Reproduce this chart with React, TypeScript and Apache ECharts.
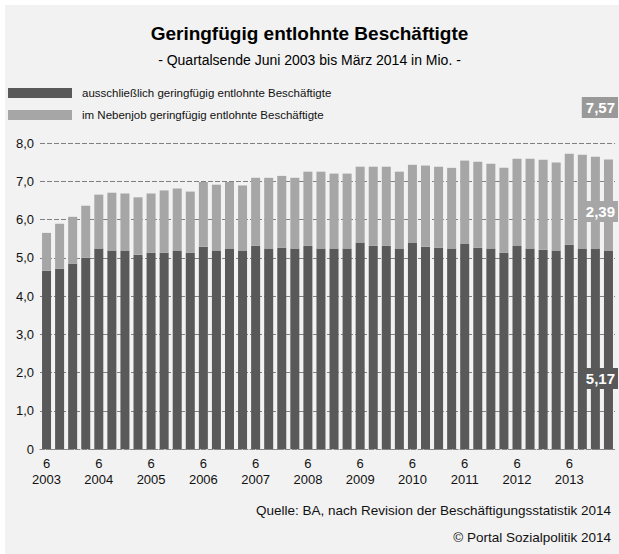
import React, { useEffect, useRef } from "react";
import * as echarts from "echarts";

const categories = [
  "6/2003", "9/2003", "12/2003",
  "3/2004", "6/2004", "9/2004", "12/2004",
  "3/2005", "6/2005", "9/2005", "12/2005",
  "3/2006", "6/2006", "9/2006", "12/2006",
  "3/2007", "6/2007", "9/2007", "12/2007",
  "3/2008", "6/2008", "9/2008", "12/2008",
  "3/2009", "6/2009", "9/2009", "12/2009",
  "3/2010", "6/2010", "9/2010", "12/2010",
  "3/2011", "6/2011", "9/2011", "12/2011",
  "3/2012", "6/2012", "9/2012", "12/2012",
  "3/2013", "6/2013", "9/2013", "12/2013",
  "3/2014",
];

const ausschliesslich = [
  4.66, 4.71, 4.84, 5.0, 5.24, 5.19, 5.19, 5.08, 5.13, 5.13, 5.19, 5.13,
  5.29, 5.19, 5.24, 5.19, 5.31, 5.24, 5.26, 5.24, 5.31, 5.24, 5.24, 5.24,
  5.4, 5.31, 5.31, 5.24, 5.4, 5.29, 5.26, 5.24, 5.37, 5.26, 5.24, 5.13,
  5.31, 5.24, 5.21, 5.19, 5.34, 5.24, 5.24, 5.174,
];

const nebenjob = [
  0.99, 1.18, 1.23, 1.36, 1.41, 1.51, 1.49, 1.5, 1.55, 1.63, 1.62, 1.6,
  1.69, 1.72, 1.74, 1.7, 1.78, 1.85, 1.88, 1.85, 1.94, 2.01, 1.96, 1.96,
  1.98, 2.07, 2.07, 2.01, 2.03, 2.12, 2.12, 2.11, 2.17, 2.25, 2.22, 2.22,
  2.28, 2.35, 2.35, 2.3, 2.38, 2.45, 2.4, 2.394,
];

const yTicks = [0, 1, 2, 3, 4, 5, 6, 7, 8];

const seriesNames = [
  "ausschließlich geringfügig entlohnte Beschäftigte",
  "im Nebenjob geringfügig entlohnte Beschäftigte",
];

const FONT = "'Liberation Sans', Arial, Helvetica, sans-serif";
const DARK = "#595959";
const LIGHT = "#a6a6a6";

const fmt = (v: number) => v.toFixed(2).replace(".", ",");

export default function App() {
  const ref = useRef<HTMLDivElement>(null);

  useEffect(() => {
    if (!ref.current) return;
    const chart = echarts.init(ref.current, null, { renderer: "svg" });
    const lastDark = ausschliesslich[ausschliesslich.length - 1];
    const lastLight = nebenjob[nebenjob.length - 1];
    const total = lastDark + lastLight;

    const valueLabel = (text: string, bg: string, y: number) => ({
      type: "text",
      right: 1,
      top: y,
      z: 100,
      style: {
        text,
        font: `bold 15px ${FONT}`,
        fill: "#ffffff",
        backgroundColor: bg,
        padding: [3, 3, 3, 4],
      },
    });

    chart.setOption({
      animation: false,
      backgroundColor: "#ffffff",
      textStyle: { fontFamily: FONT },
      title: {
        text: "Geringfügig entlohnte Beschäftigte",
        subtext: "- Quartalsende Juni 2003 bis März 2014 in Mio. -",
        left: "center",
        top: 19,
        itemGap: 10,
        textStyle: { fontFamily: FONT, fontSize: 19, fontWeight: "bold", color: "#000" },
        subtextStyle: { fontFamily: FONT, fontSize: 14, color: "#000" },
      },
      legend: {
        orient: "vertical",
        left: 8,
        top: 87,
        padding: 0,
        itemWidth: 64,
        itemHeight: 10,
        itemGap: 10,
        icon: "rect",
        selectedMode: false,
        data: seriesNames,
        textStyle: { fontFamily: FONT, fontSize: 11.5, color: "#111", padding: [0, 0, 0, 5] },
      },
      grid: { left: 40, right: 4, top: 143, bottom: 105, containLabel: false },
      xAxis: {
        type: "category",
        data: categories,
        axisLine: { show: true, lineStyle: { color: "#888", type: [4, 2] } },
        axisTick: { show: false },
        axisLabel: {
          interval: (i: number) => i % 4 === 0,
          formatter: (v: string) => v.replace("/", "\n"),
          fontFamily: FONT,
          fontSize: 13,
          lineHeight: 16,
          color: "#111",
          margin: 6,
        },
      },
      yAxis: {
        type: "value",
        min: 0,
        max: 8,
        interval: 1,
        axisLine: { show: false },
        axisTick: { show: false },
        axisLabel: {
          formatter: (v: number) => (yTicks.includes(v) && v !== 0 ? v.toFixed(1).replace(".", ",") : "0"),
          fontFamily: FONT,
          fontSize: 13,
          color: "#111",
          margin: 6,
        },
        splitLine: { lineStyle: { color: "#808080", type: [5, 2], width: 1 } },
      },
      series: [
        {
          name: seriesNames[0],
          type: "bar",
          stack: "total",
          data: ausschliesslich,
          barWidth: 9,
          itemStyle: { color: DARK },
        },
        {
          name: seriesNames[1],
          type: "bar",
          stack: "total",
          data: nebenjob,
          barWidth: 9,
          itemStyle: { color: LIGHT },
        },
      ],
      graphic: [
        {
          type: "rect",
          left: 5,
          top: 5,
          z: -10,
          shape: { width: 614, height: 549 },
          style: { fill: "#f2f2f2" },
        },
        valueLabel(fmt(total), "#999999", 97),
        valueLabel(fmt(lastLight), LIGHT, 201),
        valueLabel(fmt(lastDark), DARK, 368),
        {
          type: "text",
          right: 8,
          top: 503,
          style: {
            text: "Quelle: BA, nach Revision der Beschäftigungsstatistik 2014",
            font: `13.5px ${FONT}`,
            fill: "#111",
          },
        },
        {
          type: "text",
          right: 8,
          top: 530,
          style: {
            text: "© Portal Sozialpolitik 2014",
            font: `13.5px ${FONT}`,
            fill: "#111",
          },
        },
      ],
    });
    return () => chart.dispose();
  }, []);

  return (
    <div
      ref={ref}
      style={{ position: "fixed", left: 0, top: 0, width: 619, height: 554 }}
    />
  );
}
